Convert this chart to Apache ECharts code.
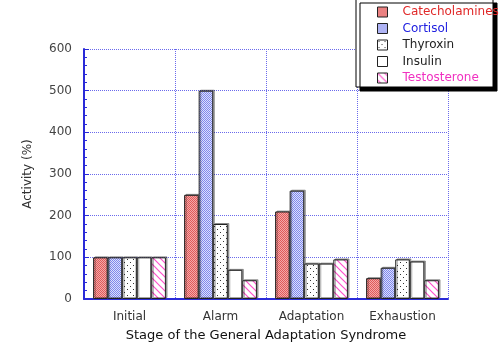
<!DOCTYPE html>
<html>
<head>
<meta charset="utf-8">
<script src="https://cdn.jsdelivr.net/npm/echarts@6/dist/echarts.min.js"></script>
<style>
  html, body { margin: 0; padding: 0; background: #fff; }
  #chart { width: 500px; height: 347px; }
</style>
</head>
<body>
<div id="chart"></div>
<script>
// Hormone activity through the stages of the General Adaptation Syndrome
const stages = ['Initial', 'Alarm', 'Adaptation', 'Exhaustion'];
const hormones = ['Catecholamines', 'Cortisol', 'Thyroxin', 'Insulin', 'Testosterone'];
const catecholamines = [100, 250, 210, 50];
const cortisol = [100, 500, 260, 75];
const thyroxin = [100, 180, 85, 95];
const insulin = [100, 70, 85, 90];
const testosterone = [100, 45, 95, 45];
const yTicks = [0, 100, 200, 300, 400, 500, 600];

const seriesValues = [catecholamines, cortisol, thyroxin, insulin, testosterone];
const legendColors = ['#e02828', '#2020e0', '#222222', '#222222', '#f030c0'];

// Small tiled canvases used as bar fill patterns
function makeTile(w, h, draw) {
  const c = document.createElement('canvas');
  c.width = w; c.height = h;
  const ctx = c.getContext('2d');
  draw(ctx, w, h);
  return { image: c, repeat: 'repeat' };
}
const fills = [
  makeTile(2, 2, (ctx) => {
    ctx.fillStyle = '#f4a8a8'; ctx.fillRect(0, 0, 2, 2);
    ctx.fillStyle = '#e05a5a'; ctx.fillRect(0, 0, 1, 1); ctx.fillRect(1, 1, 1, 1);
  }),
  makeTile(2, 2, (ctx) => {
    ctx.fillStyle = '#dcdffc'; ctx.fillRect(0, 0, 2, 2);
    ctx.fillStyle = '#8088ec'; ctx.fillRect(0, 0, 1, 1); ctx.fillRect(1, 1, 1, 1);
  }),
  makeTile(6, 6, (ctx) => {
    ctx.fillStyle = '#ffffff'; ctx.fillRect(0, 0, 6, 6);
    ctx.fillStyle = '#333'; ctx.fillRect(1, 1, 1, 1); ctx.fillRect(4, 4, 1, 1);
  }),
  '#ffffff',
  makeTile(7, 7, (ctx) => {
    ctx.fillStyle = '#ffffff'; ctx.fillRect(0, 0, 7, 7);
    ctx.strokeStyle = '#ff50cc'; ctx.lineWidth = 1.2;
    ctx.beginPath();
    ctx.moveTo(-1, -1); ctx.lineTo(8, 8);
    ctx.moveTo(-1, 6); ctx.lineTo(1, 8);
    ctx.moveTo(6, -1); ctx.lineTo(8, 1);
    ctx.stroke();
  })
];

const blue = '#2a2ad8';
const gridBlue = '#6a6aec';
const font = '"DejaVu Sans", Verdana, sans-serif';

const chart = echarts.init(document.getElementById('chart'), null, { renderer: 'canvas' });
chart.setOption({
  animation: false,
  backgroundColor: '#ffffff',
  textStyle: { fontFamily: font },
  grid: { left: 84, right: 52, top: 49, bottom: 47 },
  graphic: [{
    type: 'rect',
    z: 3,
    shape: { x: 356, y: -1, width: 137, height: 88 },
    style: {
      fill: '#ffffff', stroke: '#000', lineWidth: 1,
      shadowColor: '#000', shadowBlur: 0, shadowOffsetX: 4, shadowOffsetY: 4
    }
  }],
  legend: {
    orient: 'vertical',
    left: 377, top: 4,
    z: 10,
    icon: 'rect',
    itemWidth: 10, itemHeight: 10, itemGap: 0.5,
    padding: 0,
    itemStyle: { borderColor: '#222', borderWidth: 1, shadowColor: 'rgba(0,0,0,0)', shadowOffsetX: 0, shadowOffsetY: 0 },
    data: hormones.map((h, i) => ({
      name: h,
      textStyle: { color: legendColors[i] }
    })),
    textStyle: { fontSize: 12, fontFamily: font, lineHeight: 16, padding: [0, 0, 0, 10] }
  },
  xAxis: {
    type: 'category',
    data: stages,
    name: 'Stage of the General Adaptation Syndrome',
    nameLocation: 'middle',
    nameGap: 30,
    nameTextStyle: { color: '#111', fontSize: 13 },
    axisLine: { lineStyle: { color: blue, width: 2 } },
    axisTick: { inside: true, length: 4, lineStyle: { color: blue } },
    axisLabel: { color: '#333', fontSize: 12, margin: 12 },
    splitLine: { show: true, lineStyle: { color: gridBlue, type: 'dotted', width: 1 } }
  },
  yAxis: {
    type: 'value',
    min: yTicks[0], max: yTicks[yTicks.length - 1], interval: 100,
    name: 'Activity (%)',
    nameLocation: 'middle',
    nameGap: 50,
    nameTextStyle: { color: '#333', fontSize: 12 },
    axisLine: { show: true, lineStyle: { color: blue, width: 2 } },
    axisTick: { show: true, inside: true, length: 5, lineStyle: { color: blue } },
    minorTick: { show: true, splitNumber: 5, length: 3, lineStyle: { color: blue } },
    axisLabel: { color: '#444', fontSize: 12, margin: 12 },
    splitLine: { show: true, lineStyle: { color: gridBlue, type: 'dotted', width: 1 } }
  },
  series: hormones.map((h, i) => ({
    name: h,
    type: 'bar',
    data: seriesValues[i],
    barGap: '0%',
    barCategoryGap: '20%',
    itemStyle: {
      color: fills[i],
      borderColor: '#222',
      borderWidth: 1,
      shadowColor: 'rgba(0,0,0,0.35)',
      shadowBlur: 0,
      shadowOffsetX: 1.5,
      shadowOffsetY: -1
    }
  }))
});
</script>
</body>
</html>
